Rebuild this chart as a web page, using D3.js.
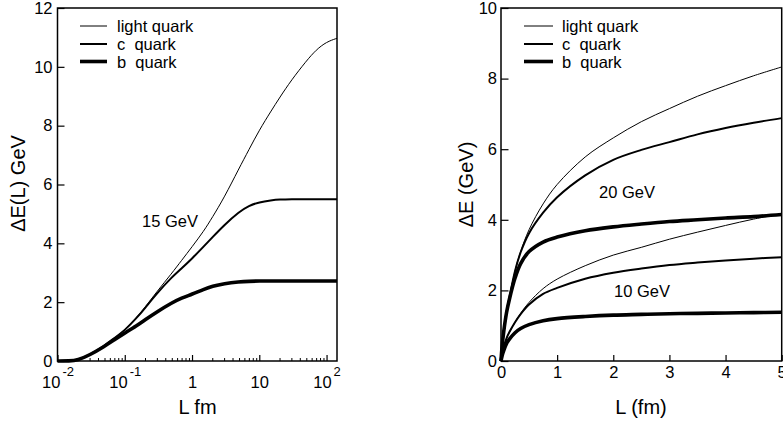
<!DOCTYPE html>
<html><head><meta charset="utf-8">
<script src="https://cdn.jsdelivr.net/npm/d3@7"></script>
<style>
body{margin:0;background:#fff}
svg{display:block}
text{font-family:"Liberation Sans",Arial,Helvetica,sans-serif;fill:#000;white-space:pre}
</style>
</head><body>
<svg id="chart" width="783" height="424"></svg>
<script>
// ---------- data: left panel (E = 15 GeV, log L) ----------
const leftL      = [0.01, 0.015, 0.02, 0.03, 0.05, 0.07, 0.1, 0.15, 0.2, 0.3, 0.5, 0.7, 1, 1.5, 2, 3, 5, 7, 10, 15, 20, 30, 50, 70, 100, 143];
const leftLight  = [0, 0, 0.03, 0.2, 0.52, 0.78, 1.05, 1.48, 1.82, 2.36, 2.98, 3.42, 3.88, 4.42, 4.88, 5.55, 6.55, 7.18, 7.85, 8.5, 8.95, 9.55, 10.2, 10.58, 10.85, 10.97];
const leftCharm  = [0, 0, 0.03, 0.2, 0.52, 0.78, 1.04, 1.46, 1.8, 2.3, 2.85, 3.15, 3.48, 3.9, 4.2, 4.62, 5.07, 5.28, 5.4, 5.46, 5.49, 5.5, 5.5, 5.5, 5.5, 5.5];
const leftBottom = [0, 0, 0.03, 0.2, 0.5, 0.72, 0.95, 1.2, 1.4, 1.67, 1.98, 2.14, 2.27, 2.44, 2.54, 2.63, 2.69, 2.71, 2.72, 2.72, 2.72, 2.72, 2.72, 2.72, 2.72, 2.72];
const leftXTicks = [0.01, 0.1, 1, 10, 100];
const leftXTickBase = ["10", "10", "1", "10", "10"];
const leftXTickExp  = ["-2", "-1", "", "", "2"];
const leftYTicks = [0, 2, 4, 6, 8, 10, 12];
const leftTitleX = "L fm";
const leftTitleY = "\u0394E(L) GeV";
const leftNote = "15 GeV";

// ---------- data: right panel (E = 20 and 10 GeV, linear L) ----------
const rightL        = [0, 0.02, 0.05, 0.1, 0.15, 0.25, 0.35, 0.5, 0.75, 1, 1.5, 2, 2.5, 3, 3.5, 4, 4.5, 5];
const rightLight20  = [0, 0.45, 0.85, 1.4, 1.8, 2.55, 3.1, 3.72, 4.45, 5.0, 5.78, 6.32, 6.78, 7.15, 7.5, 7.8, 8.08, 8.33];
const rightCharm20  = [0, 0.45, 0.85, 1.4, 1.8, 2.55, 3.08, 3.62, 4.2, 4.64, 5.26, 5.7, 5.98, 6.2, 6.42, 6.6, 6.75, 6.88];
const rightBottom20 = [0, 0.42, 0.85, 1.38, 1.75, 2.35, 2.76, 3.1, 3.37, 3.51, 3.69, 3.8, 3.88, 3.95, 4.0, 4.05, 4.09, 4.15];
const rightLight10  = [0, 0.2, 0.4, 0.65, 0.82, 1.1, 1.35, 1.66, 2.05, 2.32, 2.7, 3.0, 3.22, 3.45, 3.65, 3.84, 4.02, 4.17];
const rightCharm10  = [0, 0.2, 0.4, 0.65, 0.82, 1.1, 1.33, 1.6, 1.9, 2.07, 2.33, 2.5, 2.62, 2.72, 2.79, 2.85, 2.9, 2.94];
const rightBottom10 = [0, 0.15, 0.3, 0.5, 0.62, 0.8, 0.92, 1.03, 1.14, 1.2, 1.26, 1.3, 1.32, 1.34, 1.35, 1.36, 1.37, 1.38];
const rightXTicks = [0, 1, 2, 3, 4, 5];
const rightYTicks = [0, 2, 4, 6, 8, 10];
const rightTitleX = "L (fm)";
const rightTitleY = "\u0394E (GeV)";
const rightNotes = ["20 GeV", "10 GeV"];

const legendLabels = ["light quark", "c  quark", "b  quark"];
const lineWidths = [1, 2, 3.6];

// ---------- drawing ----------
const svg = d3.select("#chart");
const TICK_FS = "16.5px", TITLE_FS = "20px";

function frame(g, x0, x1, y0, y1) {
  g.append("rect").attr("x", x0).attr("y", y1).attr("width", x1 - x0).attr("height", y0 - y1)
    .attr("fill", "none").attr("stroke", "#000").attr("stroke-width", 1.5);
}

function legend(g, lx0, lx1, tx) {
  const rowsY = [26, 44, 61.5];
  legendLabels.forEach((lab, i) => {
    g.append("line").attr("x1", lx0).attr("x2", lx1).attr("y1", rowsY[i]).attr("y2", rowsY[i])
      .attr("stroke", "#000").attr("stroke-width", lineWidths[i]);
    g.append("text").attr("x", tx).attr("y", rowsY[i] + 6).style("font-size", TICK_FS).text(lab);
  });
}

function drawCurve(g, xs, ys, xScale, yScale, w, curve) {
  const line = d3.line().x(d => xScale(d[0])).y(d => yScale(d[1])).curve(curve);
  g.append("path").datum(xs.map((x, i) => [x, ys[i]])).attr("d", line)
    .attr("fill", "none").attr("stroke", "#000").attr("stroke-width", w)
    .attr("stroke-linejoin", "round").attr("stroke-linecap", "butt");
}

// ===== Left panel =====
{
  const g = svg.append("g");
  const x = d3.scaleLog().domain([0.01, 143]).range([57.5, 337]);
  const y = d3.scaleLinear().domain([0, 12]).range([361, 8]);

  drawCurve(g, leftL, leftLight, x, y, lineWidths[0], d3.curveBasis);
  drawCurve(g, leftL, leftCharm, x, y, lineWidths[1], d3.curveBasis);
  drawCurve(g, leftL, leftBottom, x, y, lineWidths[2], d3.curveBasis);

  // minor ticks
  const minor = [];
  [0.01, 0.1, 1, 10].forEach(d => { for (let k = 2; k <= 9; k++) minor.push(d * k); });
  const gMinor = g.append("g").attr("transform", "translate(0,361)")
    .call(d3.axisBottom(x).tickValues(minor).tickSize(-3).tickFormat(""));
  gMinor.select(".domain").remove();
  gMinor.selectAll("line").attr("stroke-width", 1);

  const gx = g.append("g").attr("transform", "translate(0,361)")
    .call(d3.axisBottom(x).tickValues(leftXTicks).tickSize(-6).tickFormat(""));
  gx.select(".domain").remove();
  gx.selectAll("line").attr("stroke-width", 1.2);
  gx.selectAll(".tick text").each(function(d, i) {
    const t = d3.select(this).attr("y", 26.5).attr("dy", 0).attr("fill", "#000")
      .style("font-size", TICK_FS).attr("font-family", null).attr("text-anchor", "middle");
    t.append("tspan").text(leftXTickBase[i]);
    if (leftXTickExp[i]) t.append("tspan").attr("dy", -12).attr("dx", 2).style("font-size", "13px").text(leftXTickExp[i]);
  });

  const gy = g.append("g").attr("transform", "translate(57.5,0)")
    .call(d3.axisLeft(y).tickValues(leftYTicks).tickSize(-7).tickPadding(5).tickFormat(d3.format("d")));
  gy.select(".domain").remove();
  gy.selectAll("line").attr("stroke-width", 1.2);
  gy.selectAll("text").style("font-size", TICK_FS).attr("font-family", null).attr("fill", "#000");

  frame(g, 57.5, 337, 361, 8);
  legend(g, 80, 107, 117);

  g.append("text").attr("x", 142).attr("y", 227).style("font-size", TICK_FS).text(leftNote);
  g.append("text").attr("x", 197.5).attr("y", 413.5).attr("text-anchor", "middle").style("font-size", TITLE_FS).text(leftTitleX);
  g.append("text").attr("transform", "translate(25,183.5) rotate(-90)").attr("text-anchor", "middle")
    .style("font-size", TITLE_FS).text(leftTitleY);
}

// ===== Right panel =====
{
  const g = svg.append("g");
  const x = d3.scaleLinear().domain([0, 5]).range([501, 781.7]);
  const y = d3.scaleLinear().domain([0, 10]).range([361, 8]);

  [[rightLight20, 0], [rightCharm20, 1], [rightBottom20, 2],
   [rightLight10, 0], [rightCharm10, 1], [rightBottom10, 2]].forEach(([ys, k]) =>
    drawCurve(g, rightL, ys, x, y, lineWidths[k], d3.curveCatmullRom.alpha(0.5)));

  const gx = g.append("g").attr("transform", "translate(0,361)")
    .call(d3.axisBottom(x).tickValues(rightXTicks).tickSize(-6).tickFormat(d3.format("d")));
  gx.select(".domain").remove();
  gx.selectAll("line").attr("stroke-width", 1.2);
  gx.selectAll("text").attr("y", 16.7).attr("dy", 0).style("font-size", TICK_FS)
    .attr("font-family", null).attr("fill", "#000");

  const gy = g.append("g").attr("transform", "translate(501,0)")
    .call(d3.axisLeft(y).tickValues(rightYTicks).tickSize(-7.5).tickPadding(4).tickFormat(d3.format("d")));
  gy.select(".domain").remove();
  gy.selectAll("line").attr("stroke-width", 1.2);
  gy.selectAll("text").style("font-size", TICK_FS).attr("font-family", null).attr("fill", "#000");

  frame(g, 501, 781.7, 361, 8);
  legend(g, 524, 553, 562);

  g.append("text").attr("x", 599).attr("y", 198).style("font-size", TICK_FS).text(rightNotes[0]);
  g.append("text").attr("x", 614).attr("y", 296.5).style("font-size", TICK_FS).text(rightNotes[1]);
  g.append("text").attr("x", 641).attr("y", 413.5).attr("text-anchor", "middle").style("font-size", TITLE_FS).text(rightTitleX);
  g.append("text").attr("transform", "translate(473,184.5) rotate(-90)").attr("text-anchor", "middle")
    .style("font-size", TITLE_FS).text(rightTitleY);
}
</script>
</body></html>
